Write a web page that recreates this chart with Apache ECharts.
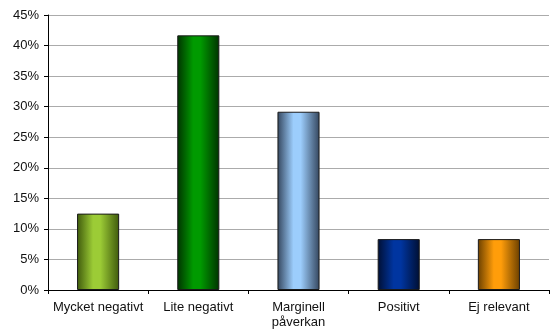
<!DOCTYPE html>
<html>
<head>
<meta charset="utf-8">
<script src="https://cdn.jsdelivr.net/npm/echarts@6/dist/echarts.min.js"></script>
<style>
  html, body { margin: 0; padding: 0; background: #fff; }
  #chart { width: 556px; height: 336px; }
</style>
</head>
<body>
<div id="chart"></div>
<script>
// Response categories and their shares (percent)
const categories = ['Mycket negativt', 'Lite negativt', 'Marginell\npåverkan', 'Positivt', 'Ej relevant'];
const shares = [12.5, 41.67, 29.17, 8.33, 8.33];
const yTicks = [0, 5, 10, 15, 20, 25, 30, 35, 40, 45];

// Edge (dark) and centre (light) tones for each cylinder-shaded bar
const edgeColors = ['#3f5a0c', '#003300', '#34465e', '#000f33', '#6b4000'];
const midColors = ['#9ccc36', '#009a00', '#9ccdfc', '#0035a0', '#ff9d0a'];

function shade(i) {
  return new echarts.graphic.LinearGradient(0, 0, 1, 0, [
    { offset: 0, color: edgeColors[i] },
    { offset: 0.38, color: midColors[i] },
    { offset: 0.55, color: midColors[i] },
    { offset: 1, color: edgeColors[i] }
  ]);
}

const chart = echarts.init(document.getElementById('chart'), null, { renderer: 'canvas' });
chart.setOption({
  animation: false,
  grid: { left: 48, right: 7, top: 15, bottom: 46 },
  xAxis: {
    type: 'category',
    data: categories,
    axisLine: { lineStyle: { color: '#000', width: 1 } },
    axisTick: { show: true, length: 4, lineStyle: { color: '#000' } },
    axisLabel: {
      color: '#111',
      fontFamily: 'Liberation Sans, Arial, sans-serif',
      fontSize: 13,
      margin: 10,
      lineHeight: 15,
      interval: 0
    }
  },
  yAxis: {
    type: 'value',
    min: yTicks[0],
    max: yTicks[yTicks.length - 1],
    interval: 5,
    axisLine: { show: true, lineStyle: { color: '#000', width: 1 } },
    axisTick: { show: true, length: 4, lineStyle: { color: '#000' } },
    axisLabel: {
      color: '#111',
      fontFamily: 'Liberation Sans, Arial, sans-serif',
      fontSize: 13,
      margin: 9,
      formatter: v => v + '%'
    },
    splitLine: { lineStyle: { color: '#ababab', width: 1 } }
  },
  series: [{
    type: 'bar',
    barWidth: '42%',
    data: shares.map((v, i) => ({
      value: v,
      itemStyle: { color: shade(i), borderColor: '#1a1a1a', borderWidth: 1 }
    }))
  }]
});
</script>
</body>
</html>
